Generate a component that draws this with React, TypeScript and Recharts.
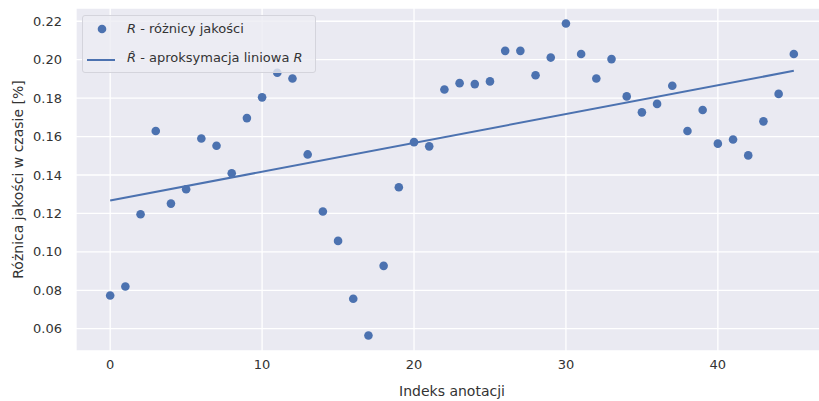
import React from "react";
import {
	CartesianGrid,
	ComposedChart,
	Label,
	Line,
	Scatter,
	XAxis,
	YAxis,
} from "recharts";

// R - quality differences, one value per annotation index
const qualityDiff = [
	0.0773, 0.082, 0.1196, 0.1629, 0.1251, 0.1326, 0.159, 0.1552, 0.1409,
	0.1696, 0.1804, 0.1932, 0.1902, 0.1507, 0.121, 0.1057, 0.0756, 0.0565,
	0.0927, 0.1336, 0.1571, 0.1549, 0.1845, 0.1878, 0.1873, 0.1887, 0.2046,
	0.2046, 0.1919, 0.2011, 0.2188, 0.203, 0.1902, 0.2003, 0.1809, 0.1726,
	0.177, 0.1864, 0.1629, 0.1738, 0.1563, 0.1585, 0.1502, 0.1679, 0.1822,
	0.203,
];

// R-hat - linear fit, read at both ends
const fitX = [0, 45];
const fitY = [0.1267, 0.1942];

const xTicks = [0, 10, 20, 30, 40];
const yTicks = [0.06, 0.08, 0.1, 0.12, 0.14, 0.16, 0.18, 0.2, 0.22];

const BLUE = "#4C72B0";
const TEXT = "#333333";
const FONT = "'DejaVu Sans', sans-serif";

const points = qualityDiff.map((y, x) => ({ x, y }));
const fitLine = fitX.map((x, i) => ({ x, y: fitY[i] }));

function LegendBox(): React.JSX.Element {
	return (
		<div
			style={{
				position: "absolute",
				left: 82,
				top: 15,
				width: 234,
				height: 58,
				boxSizing: "border-box",
				background: "rgba(236,236,243,0.8)",
				border: "1px solid #d4d4dc",
				borderRadius: 3,
				fontFamily: FONT,
				fontSize: 13,
				color: TEXT,
			}}
		>
			<svg
				width={40}
				height={56}
				style={{ position: "absolute", left: 0, top: 0 }}
			>
				<circle cx={19} cy={13} r={4.3} fill={BLUE} />
				<line x1={4} y1={44} x2={32} y2={44} stroke={BLUE} strokeWidth={2} />
			</svg>
			<div style={{ position: "absolute", left: 44, top: 5, whiteSpace: "nowrap" }}>
				<i>R</i> - różnicy jakości
			</div>
			<div style={{ position: "absolute", left: 44, top: 34, whiteSpace: "nowrap" }}>
				<i>R̂</i> - aproksymacja liniowa <i>R</i>
			</div>
		</div>
	);
}

export default function App(): React.JSX.Element {
	return (
		<div
			style={{
				position: "absolute",
				left: 0,
				top: 0,
				width: 819,
				height: 401,
				overflow: "hidden",
				background: "#fff",
			}}
		>
			<ComposedChart
				width={829}
				height={401}
				margin={{ top: 8, right: 1, bottom: 0, left: 0 }}
				style={{ fontFamily: FONT }}
			>
				<CartesianGrid
					fill="#EAEAF2"
					stroke="#ffffff"
					strokeWidth={1.3}
					horizontal
					vertical
				/>
				<XAxis
					type="number"
					dataKey="x"
					domain={[-2.25, 47.25]}
					ticks={xTicks}
					allowDataOverflow
					axisLine={false}
					tickLine={false}
					tickSize={0}
					tickMargin={9}
					height={50}
					tick={{ fill: TEXT, fontSize: 13 }}
				>
					<Label
						value="Indeks anotacji"
						position="insideBottom"
						offset={5}
						style={{ fill: TEXT, fontSize: 14 }}
					/>
				</XAxis>
				<YAxis
					type="number"
					dataKey="y"
					domain={[0.0484, 0.2269]}
					ticks={yTicks}
					allowDataOverflow
					axisLine={false}
					tickLine={false}
					tickSize={0}
					tickMargin={14}
					width={76}
					tickFormatter={(v: number) => v.toFixed(2)}
					tick={{ fill: TEXT, fontSize: 13 }}
				>
					<Label
						value="Różnica jakości w czasie [%]"
						angle={-90}
						position="center"
						dx={-20}
						style={{ fill: TEXT, fontSize: 14, textAnchor: "middle" }}
					/>
				</YAxis>
				<Scatter
					name="R - różnicy jakości"
					data={points}
					dataKey="y"
					fill={BLUE}
					shape={(p: any) => <circle cx={p.cx} cy={p.cy} r={4.3} fill={BLUE} />}
					isAnimationActive={false}
				/>
				<Line
					name="R̂ - aproksymacja liniowa R"
					data={fitLine}
					dataKey="y"
					type="linear"
					stroke={BLUE}
					strokeWidth={2}
					dot={false}
					activeDot={false}
					isAnimationActive={false}
				/>
			</ComposedChart>
			<LegendBox />
		</div>
	);
}
